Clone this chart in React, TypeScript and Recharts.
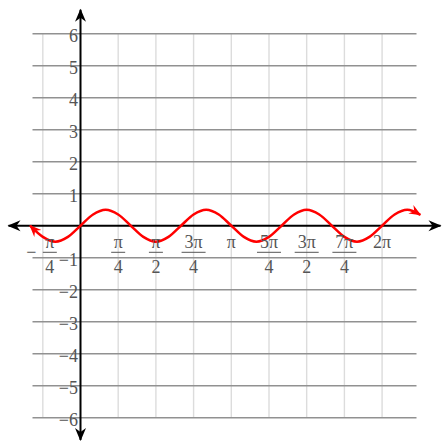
import React from 'react';
import { LineChart, Line, XAxis, YAxis, ReferenceLine, ReferenceDot } from 'recharts';

// curve samples (x in radians, y)
const xs = [-1.05, -0.785, -0.524, -0.262, 0, 0.262, 0.524, 0.785, 1.047, 1.309, 1.571, 1.833, 2.094, 2.356, 2.618, 2.88, 3.142, 3.403, 3.665, 3.927, 4.189, 4.451, 4.712, 4.974, 5.236, 5.498, 5.76, 6.021, 6.283, 6.545, 6.807, 7.08];
const ys = [0, -0.35, -0.5, -0.35, 0, 0.35, 0.5, 0.35, 0, -0.35, -0.5, -0.35, 0, 0.35, 0.5, 0.35, 0, -0.35, -0.5, -0.35, 0, 0.35, 0.5, 0.35, 0, -0.35, -0.5, -0.35, 0, 0.35, 0.5, 0.34];

const xTicks = [-0.785, 0.785, 1.571, 2.356, 3.142, 3.927, 4.712, 5.498, 6.283];
const xTickSign = ['−', '', '', '', '', '', '', '', ''];
const xTickNum = ['π', 'π', 'π', '3π', 'π', '5π', '3π', '7π', '2π'];
const xTickDen = ['4', '4', '2', '4', '', '4', '2', '4', ''];

const yTicks = [-6, -5, -4, -3, -2, -1, 1, 2, 3, 4, 5, 6];
const yTickLabels = ['−6', '−5', '−4', '−3', '−2', '−1', '1', '2', '3', '4', '5', '6'];

const gridX = [-1, 7];
const gridY = [-6, 6];
const axisX = [-1.5, 7.5];
const axisY = [-6.7, 6.75];

const rows = xs.map((x, i) => ({ x, y: ys[i] }));

const FONT = '"Liberation Serif", "DejaVu Serif", serif';
const TXT = '#555';

const XTick = ({ cx, cy, i }: { cx: number; cy: number; i: number }) => {
  const num = xTickNum[i];
  const den = xTickDen[i];
  const sign = xTickSign[i];
  const fx = sign ? cx + 7 : cx;
  const w = num.length > 1 ? 24 : 14;
  return (
    <g fontFamily={FONT} fontSize={18} fill={TXT}>
      {sign && (
        <text x={cx - 11.5} y={cy + 32} textAnchor="middle">{sign}</text>
      )}
      <text x={fx} y={cy + 21.8} textAnchor="middle">{num}</text>
      {den && (
        <>
          <line x1={fx - w / 2} x2={fx + w / 2} y1={cy + 26.6} y2={cy + 26.6} stroke={TXT} strokeWidth={1} />
          <text x={fx} y={cy + 47.5} textAnchor="middle">{den}</text>
        </>
      )}
    </g>
  );
};

const YTick = ({ cx, cy, i }: { cx: number; cy: number; i: number }) => (
  <text x={cx - 2.5} y={cy + 8.5} textAnchor="end" fontFamily={FONT} fontSize={18} fill={TXT}>
    {yTickLabels[i]}
  </text>
);

const axisShape = (p: any) => (
  <line
    x1={p.x1}
    y1={p.y1}
    x2={p.x2}
    y2={p.y2}
    stroke="#000"
    strokeWidth={2}
    markerStart="url(#axisArrow)"
    markerEnd="url(#axisArrow)"
  />
);

export default function App() {
  return (
    <div style={{ position: 'absolute', left: 0, top: 0, width: 443, height: 441, background: '#fff' }}>
      <svg width={0} height={0} style={{ position: 'absolute' }}>
        <defs>
          <marker id="axisArrow" markerUnits="userSpaceOnUse" markerWidth={1} markerHeight={1} refX={-1} refY={0} orient="auto-start-reverse" overflow="visible">
            <path d="M0,0 L-13,-5.5 L-9,0 L-13,5.5 Z" fill="#000" />
          </marker>
          <marker id="curveArrow" markerUnits="userSpaceOnUse" markerWidth={1} markerHeight={1} refX={-1} refY={0} orient="auto-start-reverse" overflow="visible">
            <path d="M0,0 L-12,-5 L-8,0 L-12,5 Z" fill="#f00" />
          </marker>
        </defs>
      </svg>
      <LineChart width={443} height={441} data={rows} margin={{ top: 9.7, right: 2.5, bottom: 0.9, left: 8.5 }}>
        <XAxis type="number" dataKey="x" domain={axisX} hide allowDataOverflow />
        <YAxis type="number" domain={axisY} hide allowDataOverflow />
        {xTicks.map((t) => (
          <ReferenceLine
            key={'vx' + t}
            segment={[{ x: t, y: gridY[0] }, { x: t, y: gridY[1] }]}
            stroke="#dcdcdc"
            strokeWidth={1.4}
            ifOverflow="visible"
          />
        ))}
        {yTicks.map((t) => (
          <ReferenceLine
            key={'hy' + t}
            segment={[{ x: gridX[0], y: t }, { x: gridX[1], y: t }]}
            stroke="#919191"
            strokeWidth={1.4}
            ifOverflow="visible"
          />
        ))}
        {yTicks.map((t, i) => (
          <ReferenceDot key={'ly' + t} x={0} y={t} ifOverflow="visible" shape={(p: any) => <YTick cx={p.cx} cy={p.cy} i={i} />} />
        ))}
        {xTicks.map((t, i) => (
          <ReferenceDot key={'lx' + t} x={t} y={0} ifOverflow="visible" shape={(p: any) => <XTick cx={p.cx} cy={p.cy} i={i} />} />
        ))}
        <ReferenceLine segment={[{ x: axisX[0], y: 0 }, { x: axisX[1], y: 0 }]} ifOverflow="visible" shape={axisShape} />
        <ReferenceLine segment={[{ x: 0, y: axisY[0] }, { x: 0, y: axisY[1] }]} ifOverflow="visible" shape={axisShape} />
        <Line
          type="monotone"
          dataKey="y"
          stroke="#f00"
          strokeWidth={2.5}
          dot={false}
          activeDot={false}
          isAnimationActive={false}
          markerStart="url(#curveArrow)"
          markerEnd="url(#curveArrow)"
        />
      </LineChart>
    </div>
  );
}
